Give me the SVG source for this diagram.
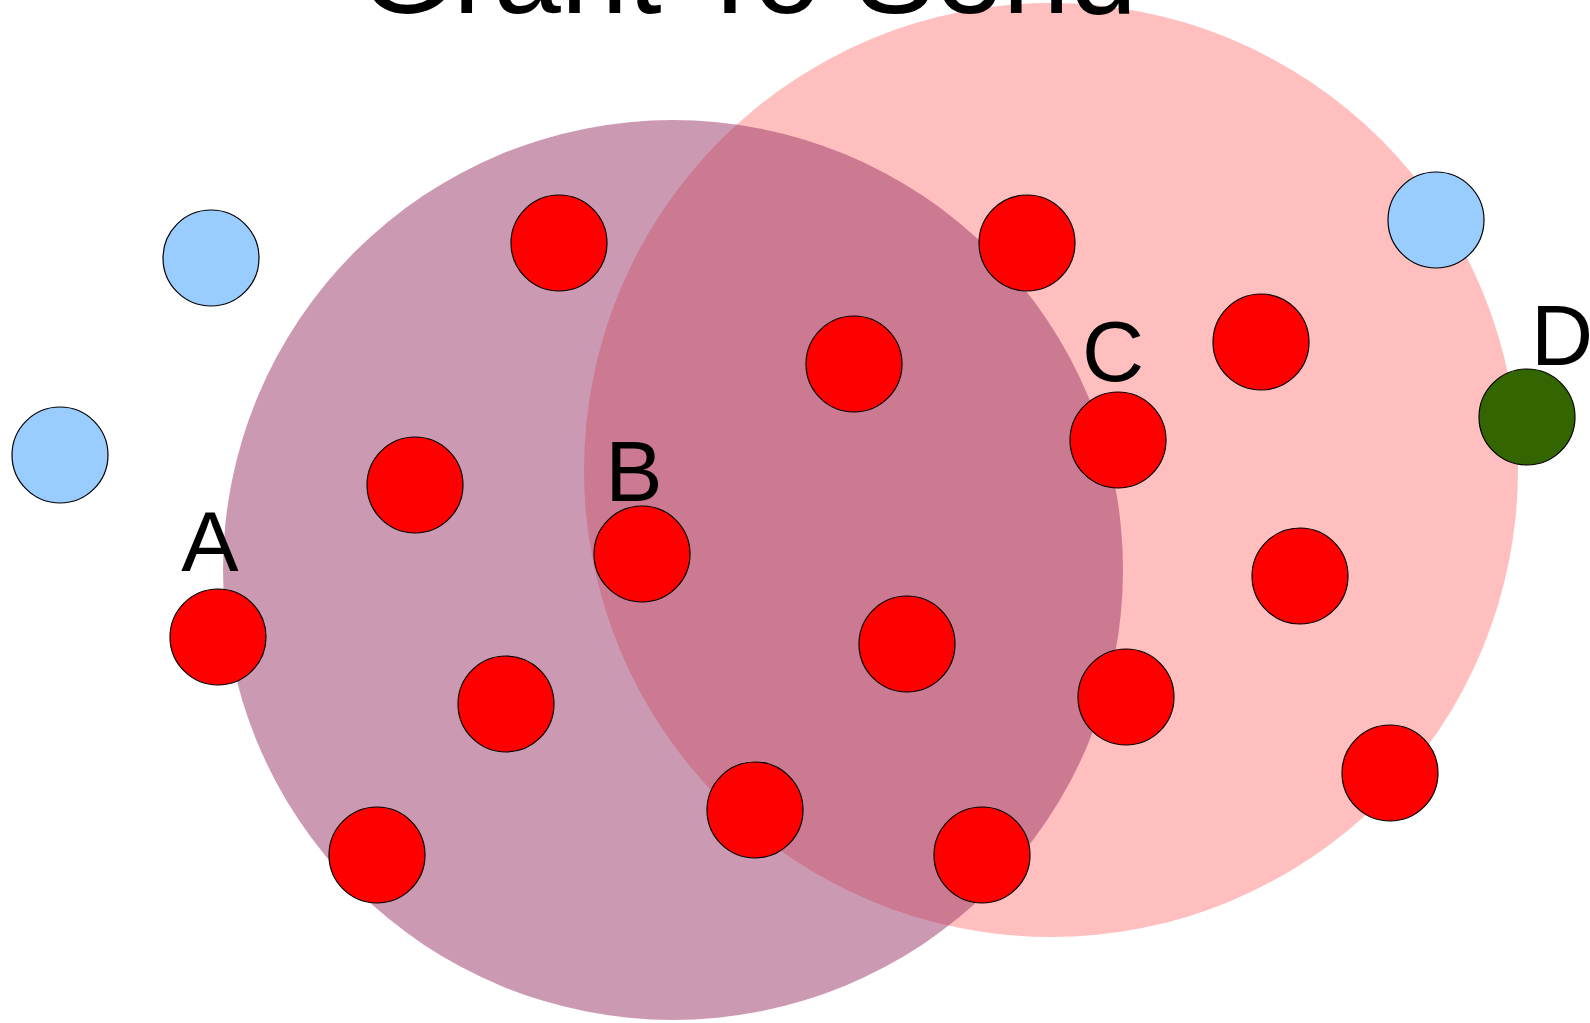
<svg xmlns="http://www.w3.org/2000/svg" width="1590" height="1023" viewBox="0 0 1590 1023">
<style>
.lbl{font-family:"Liberation Sans",Arial,sans-serif;font-size:86px;fill:#000;text-anchor:middle}
.title{font-family:"Liberation Sans",Arial,sans-serif;font-size:121px;fill:#000}
.red{fill:#ff0000;stroke:#000;stroke-width:1.2}
.blue{fill:#99ccff;stroke:#000;stroke-width:1.2}
.green{fill:#336600;stroke:#000;stroke-width:1.2}
</style>
<rect width="1590" height="1023" fill="#fff"/>
<g id="sets">
<circle id="set-pink" cx="1051" cy="470" r="467" fill="#ff0000" fill-opacity="0.25"/>
<circle id="set-purple" cx="673" cy="570" r="450" fill="#993366" fill-opacity="0.5"/>
</g>
<text class="title" x="359" y="13">Grant To Send</text>
<g id="connectors"></g>
<g id="nodes">
<g id="r1"><circle class="red" cx="559" cy="243" r="48"/></g>
<g id="r2"><circle class="red" cx="1027" cy="243" r="48"/></g>
<g id="r3"><circle class="red" cx="854" cy="364" r="48"/></g>
<g id="r4"><circle class="red" cx="1261" cy="342" r="48"/></g>
<g id="r5"><circle class="red" cx="415" cy="485" r="48"/></g>
<g id="nodeC"><circle class="red" cx="1118" cy="440" r="48"/><text class="lbl" x="1113" y="381">C</text></g>
<g id="nodeB"><circle class="red" cx="642" cy="554" r="48"/><text class="lbl" x="634" y="501">B</text></g>
<g id="nodeA"><circle class="red" cx="218" cy="637" r="48"/><text class="lbl" x="210" y="571">A</text></g>
<g id="r9"><circle class="red" cx="1300" cy="576" r="48"/></g>
<g id="r10"><circle class="red" cx="907" cy="644" r="48"/></g>
<g id="r11"><circle class="red" cx="506" cy="704" r="48"/></g>
<g id="r12"><circle class="red" cx="1126" cy="697" r="48"/></g>
<g id="r13"><circle class="red" cx="755" cy="810" r="48"/></g>
<g id="r14"><circle class="red" cx="1390" cy="773" r="48"/></g>
<g id="r15"><circle class="red" cx="377" cy="855" r="48"/></g>
<g id="r16"><circle class="red" cx="982" cy="855" r="48"/></g>
<g id="b1"><circle class="blue" cx="211" cy="258" r="48"/></g>
<g id="b2"><circle class="blue" cx="60" cy="455" r="48"/></g>
<g id="b3"><circle class="blue" cx="1436" cy="220" r="48"/></g>
<g id="nodeD"><circle class="green" cx="1527" cy="417" r="48"/><text class="lbl" x="1562" y="365">D</text></g>
</g>
</svg>
